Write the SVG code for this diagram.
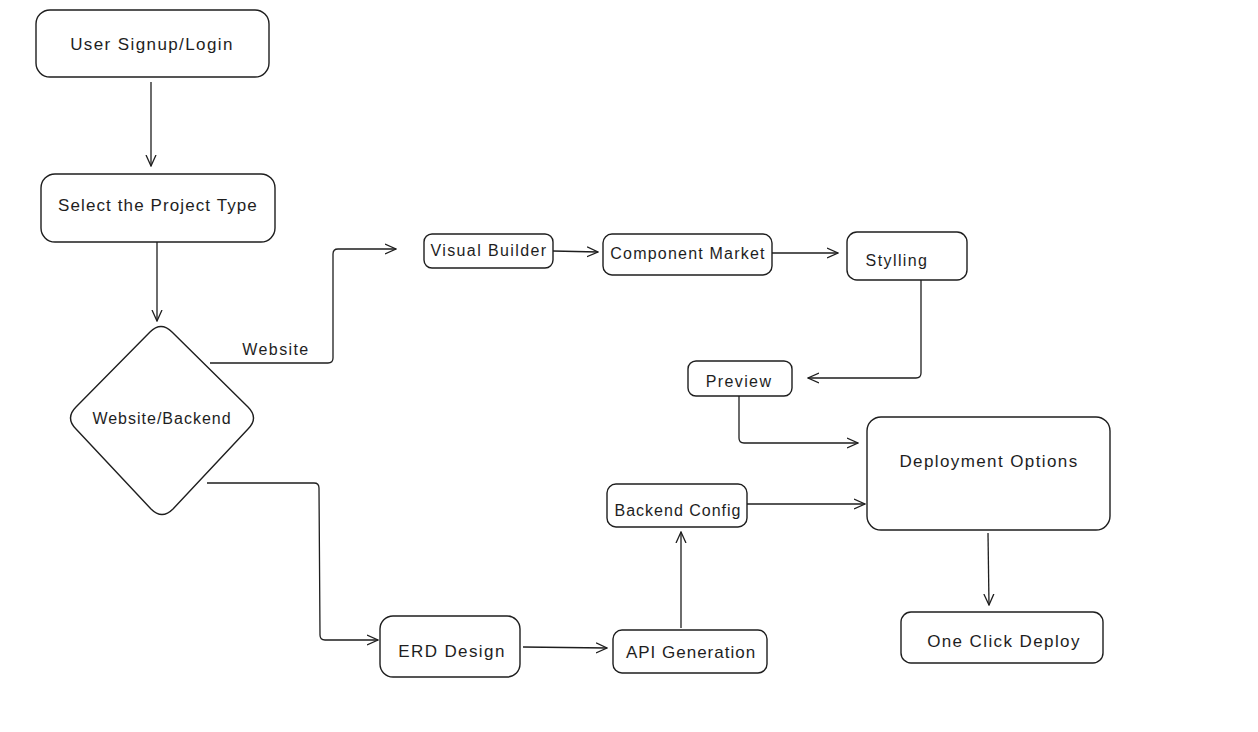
<svg xmlns="http://www.w3.org/2000/svg" width="1258" height="732" viewBox="0 0 1258 732">
<defs>
<style>
.box{fill:#ffffff;stroke:#1e1e1e;stroke-width:1.4}
.lbl{font-family:"Liberation Sans","DejaVu Sans",sans-serif;font-size:16px;letter-spacing:1.4px;fill:#1e1e1e;text-anchor:middle;dominant-baseline:central}
.con{fill:none;stroke:#1e1e1e;stroke-width:1.3;stroke-linejoin:round}
</style>
<marker id="ah" viewBox="0 0 12 12" refX="11" refY="6" markerWidth="12" markerHeight="12" markerUnits="userSpaceOnUse" orient="auto">
<path d="M0,1 L11,6 L0,11" fill="none" stroke="#1e1e1e" stroke-width="1.3"/>
</marker>
</defs>
<rect width="1258" height="732" fill="#ffffff"/>

<g id="connectors">
<path class="con" marker-end="url(#ah)" d="M151,82 L151,166"/>
<path class="con" marker-end="url(#ah)" d="M157,242 L157,321"/>
<path class="con" marker-end="url(#ah)" d="M210,363 L328,363 Q333,363 333,358 L333,254 Q333,249 338,249 L396,249"/>
<path class="con" marker-end="url(#ah)" d="M207,483 L314,483 Q319,483 319,488 L320,635 Q320,640 325,640 L378,640"/>
<path class="con" marker-end="url(#ah)" d="M553,251 L598,252"/>
<path class="con" marker-end="url(#ah)" d="M772,253 L838,253"/>
<path class="con" marker-end="url(#ah)" d="M921,280 L921,373 Q921,378 916,378 L808,378"/>
<path class="con" marker-end="url(#ah)" d="M739,396 L739,438 Q739,443 744,443 L858,443"/>
<path class="con" marker-end="url(#ah)" d="M747,504 L865,504"/>
<path class="con" marker-end="url(#ah)" d="M523,647 L607,648"/>
<path class="con" marker-end="url(#ah)" d="M681,628 L681,532"/>
<path class="con" marker-end="url(#ah)" d="M988,533 L989,605"/>
<text class="lbl" x="276" y="349">Website</text>
</g>

<g id="n-signup">
<rect class="box" x="36" y="10" width="233" height="67" rx="14"/>
<text class="lbl" x="152" y="44" style="font-size:17px">User Signup/Login</text>
</g>
<g id="n-select">
<rect class="box" x="41" y="174" width="234" height="68" rx="14"/>
<text class="lbl" x="158" y="205" style="font-size:17px;letter-spacing:1.1px">Select the Project Type</text>
</g>
<g id="n-decision">
<path class="box" d="M150,332 Q161,321 172,332 L248,407 Q259,418 248,429 L173,509 Q162,520 151,509 L76,429 Q65,418 76,407 Z"/>
<text class="lbl" x="162" y="418" style="letter-spacing:1px">Website/Backend</text>
</g>
<g id="n-visual">
<rect class="box" x="424" y="234" width="129" height="34" rx="8"/>
<text class="lbl" x="489" y="250">Visual Builder</text>
</g>
<g id="n-component">
<rect class="box" x="603" y="234" width="169" height="41" rx="9"/>
<text class="lbl" x="688" y="253" style="letter-spacing:1.2px">Component Market</text>
</g>
<g id="n-styling">
<rect class="box" x="847" y="232" width="120" height="48" rx="10"/>
<text class="lbl" x="897" y="260">Stylling</text>
</g>
<g id="n-preview">
<rect class="box" x="688" y="361" width="104" height="35" rx="8"/>
<text class="lbl" x="739" y="381">Preview</text>
</g>
<g id="n-deploy">
<rect class="box" x="867" y="417" width="243" height="113" rx="14"/>
<text class="lbl" x="989" y="461" style="font-size:17px">Deployment Options</text>
</g>
<g id="n-backend">
<rect class="box" x="607" y="484" width="140" height="43" rx="9"/>
<text class="lbl" x="678" y="510" style="letter-spacing:1px">Backend Config</text>
</g>
<g id="n-erd">
<rect class="box" x="380" y="616" width="140" height="61" rx="13"/>
<text class="lbl" x="452" y="651" style="font-size:17px">ERD Design</text>
</g>
<g id="n-api">
<rect class="box" x="613" y="630" width="154" height="43" rx="9"/>
<text class="lbl" x="691" y="652" style="font-size:17px;letter-spacing:1px">API Generation</text>
</g>
<g id="n-oneclick">
<rect class="box" x="901" y="612" width="202" height="51" rx="10"/>
<text class="lbl" x="1004" y="641" style="font-size:17px">One Click Deploy</text>
</g>
</svg>
